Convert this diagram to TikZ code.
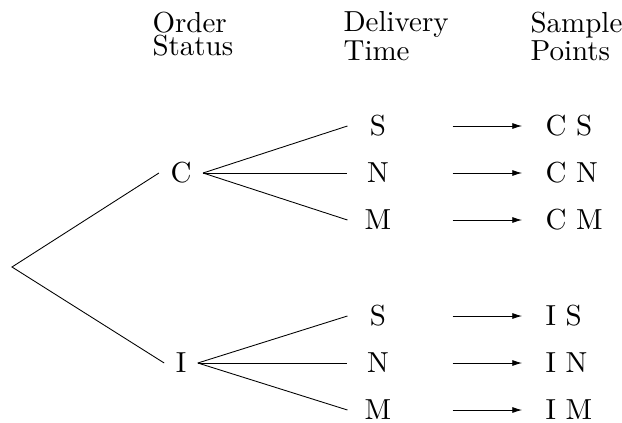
\documentclass[tikz,border=0pt]{standalone}
\usetikzlibrary{arrows.meta}
\begin{document}
\begin{tikzpicture}[x=0.345pt,y=-0.345pt,
  every node/.style={font=\fontsize{10}{8}\selectfont},
  hdr/.style={anchor=north west, inner sep=0pt, align=left},
  stat/.style={inner xsep=3.8pt, inner ysep=0pt},
  del/.style={minimum width=20.7pt, inner sep=0pt},
  pt/.style={anchor=west, inner sep=0pt},
  br/.style={line width=0.3pt},
  arr/.style={line width=0.3pt, -{Latex[length=3.4pt,width=2.1pt]}, shorten <=15.2pt, shorten >=7.9pt}]
\useasboundingbox (0,0) rectangle (622,423);
% headers
\node[hdr] (h1) at (152,11) {Order\\Status};
\node[hdr] (h2) at (343,11) {Delivery\\Time};
\node[hdr] (h3) at (530,11) {Sample\\Points};
% tree
\coordinate (root) at (12,267);
\node[stat] (C) at (181,173) {C};
\node[stat] (I) at (181,363) {I};
\node[del] (CS) at (378,126) {S};
\node[del] (CN) at (378,173) {N};
\node[del] (CM) at (378,220) {M};
\node[del] (IS) at (378,316) {S};
\node[del] (IN) at (378,363) {N};
\node[del] (IM) at (378,410) {M};
\node[pt] (pCS) at (545,126) {C S};
\node[pt] (pCN) at (545,173) {C N};
\node[pt] (pCM) at (545,220) {C M};
\node[pt] (pIS) at (545,316) {I S};
\node[pt] (pIN) at (545,363) {I N};
\node[pt] (pIM) at (545,410) {I M};
\draw[br] (C.west) -- (root) -- (I.west);
\foreach \a in {S,N,M}{
  \draw[br] (C.east) -- (C\a.west);
  \draw[br] (I.east) -- (I\a.west);
  \draw[arr] (C\a.east) -- (pC\a.west);
  \draw[arr] (I\a.east) -- (pI\a.west);
}
\end{tikzpicture}
\end{document}
